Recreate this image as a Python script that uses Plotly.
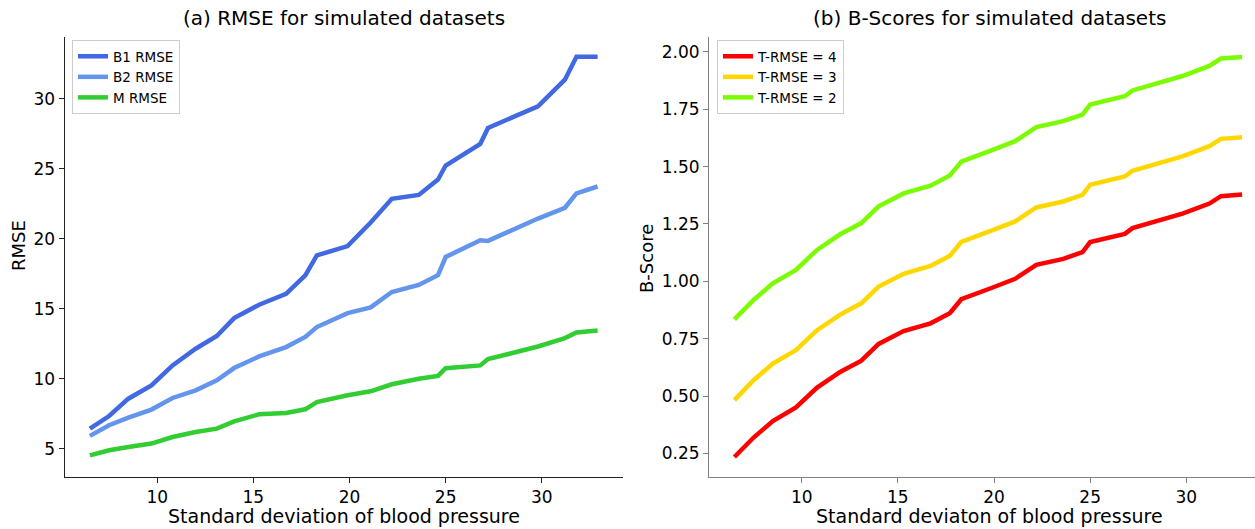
import plotly.graph_objects as go

# Standard deviation of blood pressure for each simulated dataset
std_bp = [6.5, 7.5, 8.5, 9.7, 10.8, 12.0, 13.1, 14.0, 15.3, 16.7, 17.7, 18.3, 19.9,
          21.1, 22.2, 23.6, 24.6, 25.0, 26.8, 27.2, 29.8, 31.2, 31.8, 32.3, 32.9]

# (a) RMSE per method
b1_rmse = [6.43, 7.33, 8.57, 9.52, 10.95, 12.14, 13.05, 14.33, 15.29, 16.07, 17.38, 18.81, 19.48,
           21.17, 22.86, 23.14, 24.24, 25.24, 26.79, 27.93, 29.48, 31.38, 33.02, 33.02, 33.02]
b2_rmse = [5.91, 6.67, 7.21, 7.79, 8.62, 9.17, 9.88, 10.76, 11.59, 12.26, 12.98, 13.69, 14.69,
           15.10, 16.20, 16.70, 17.40, 18.70, 19.90, 19.85, 21.45, 22.22, 23.25, 23.50, 23.74]
m_rmse = [4.52, 4.88, 5.12, 5.36, 5.83, 6.19, 6.43, 6.95, 7.45, 7.55, 7.81, 8.33, 8.81,
          9.10, 9.60, 10.00, 10.20, 10.75, 10.95, 11.40, 12.30, 12.90, 13.30, 13.38, 13.45]

# (b) B-Scores per target RMSE
bscore_t4 = [0.234, 0.319, 0.391, 0.450, 0.537, 0.605, 0.654, 0.727, 0.783, 0.817, 0.861, 0.922, 0.972,
             1.011, 1.072, 1.098, 1.127, 1.171, 1.207, 1.232, 1.295, 1.339, 1.371, 1.375, 1.378]
bscore_t3 = [0.482, 0.569, 0.641, 0.700, 0.787, 0.855, 0.904, 0.977, 1.033, 1.067, 1.111, 1.172, 1.222,
             1.261, 1.322, 1.348, 1.377, 1.421, 1.457, 1.482, 1.545, 1.589, 1.621, 1.625, 1.628]
bscore_t2 = [0.834, 0.919, 0.991, 1.050, 1.137, 1.205, 1.254, 1.327, 1.383, 1.417, 1.461, 1.522, 1.572,
             1.611, 1.672, 1.698, 1.727, 1.771, 1.807, 1.832, 1.895, 1.939, 1.971, 1.975, 1.978]

rmse_ticks = [5, 10, 15, 20, 25, 30]
bscore_ticks = [0.25, 0.50, 0.75, 1.00, 1.25, 1.50, 1.75, 2.00]
x_ticks = [10, 15, 20, 25, 30]

FONT = "DejaVu Sans"
W, H = 1255, 529
LW = 4.5

fig = go.Figure()

left_series = [("B1 RMSE", b1_rmse, "#4169E1"),
               ("B2 RMSE", b2_rmse, "#6495ED"),
               ("M RMSE", m_rmse, "#32CD32")]
for name, ys, col in left_series:
    fig.add_trace(go.Scatter(x=std_bp, y=ys, mode="lines", name=name,
                             line=dict(color=col, width=LW),
                             xaxis="x", yaxis="y", legend="legend"))

right_series = [("T-RMSE = 4", bscore_t4, "#FF0000"),
                ("T-RMSE = 3", bscore_t3, "#FFD700"),
                ("T-RMSE = 2", bscore_t2, "#7CFC00")]
for name, ys, col in right_series:
    fig.add_trace(go.Scatter(x=std_bp, y=ys, mode="lines", name=name,
                             line=dict(color=col, width=LW),
                             xaxis="x2", yaxis="y2", legend="legend2"))

# pixel geometry of the two panels
lx0, lx1 = 64.5, 623.0
rx0 = 709.0
ytop, ybot = 37.0, 477.0
xr = [5.18, 34.22]
px_per_unit = (lx1 - lx0) / (xr[1] - xr[0])
xr2 = [xr[0], xr[0] + (W - rx0) / px_per_unit]
ydom = [(H - ybot) / H, (H - ytop) / H]


def axis_style(color, **kw):
    d = dict(showline=True, linecolor=color, linewidth=1, mirror=False,
             showgrid=False, zeroline=False, ticks="outside", ticklen=5,
             tickwidth=1, tickcolor=color,
             tickfont=dict(family=FONT, size=17, color="#000000"))
    d.update(kw)
    return d


legend_common = dict(bgcolor="#ffffff", bordercolor="#cccccc", borderwidth=1,
                     font=dict(family=FONT, size=13.5, color="#000000"),
                     xanchor="left", yanchor="top", tracegroupgap=0,
                     itemwidth=30)

fig.update_layout(
    width=W, height=H,
    margin=dict(l=0, r=0, t=0, b=0),
    paper_bgcolor="#ffffff", plot_bgcolor="#ffffff",
    font=dict(family=FONT, color="#000000"),
    showlegend=True,
    xaxis=axis_style("#222222", domain=[lx0 / W, lx1 / W], range=xr,
                     tickvals=x_ticks, anchor="y"),
    yaxis=axis_style("#222222", domain=ydom, range=[2.97, 34.43],
                     tickvals=rmse_ticks, anchor="x"),
    xaxis2=axis_style("#808080", domain=[rx0 / W, 1.0], range=xr2,
                      tickvals=x_ticks, anchor="y2"),
    yaxis2=axis_style("#808080", domain=ydom, range=[0.147, 2.065],
                      tickvals=bscore_ticks, tickformat=".2f", anchor="x2"),
    legend=dict(x=72 / W, y=1 - 40 / H, **legend_common),
    legend2=dict(x=717 / W, y=1 - 40 / H, **legend_common),
)

annotations = [
    dict(text="(a) RMSE for simulated datasets", x=(lx0 + lx1) / 2 / W, y=1 - 18 / H,
         font=dict(size=20)),
    dict(text="(b) B-Scores for simulated datasets", x=(rx0 + 1269) / 2 / W, y=1 - 18 / H,
         font=dict(size=20)),
    dict(text="Standard deviation of blood pressure", x=(lx0 + lx1) / 2 / W, y=1 - 516 / H,
         font=dict(size=19)),
    dict(text="Standard deviaton of blood pressure", x=(rx0 + 1269) / 2 / W, y=1 - 516 / H,
         font=dict(size=19)),
    dict(text="RMSE", x=18 / W, y=1 - 246 / H, textangle=-90, font=dict(size=18)),
    dict(text="B-Score", x=646 / W, y=1 - 259 / H, textangle=-90, font=dict(size=18)),
]
for a in annotations:
    a.update(xref="paper", yref="paper", showarrow=False,
             xanchor="center", yanchor="middle")
    a["font"].update(family=FONT, color="#000000")
fig.update_layout(annotations=annotations)

fig.write_html("out.html")
